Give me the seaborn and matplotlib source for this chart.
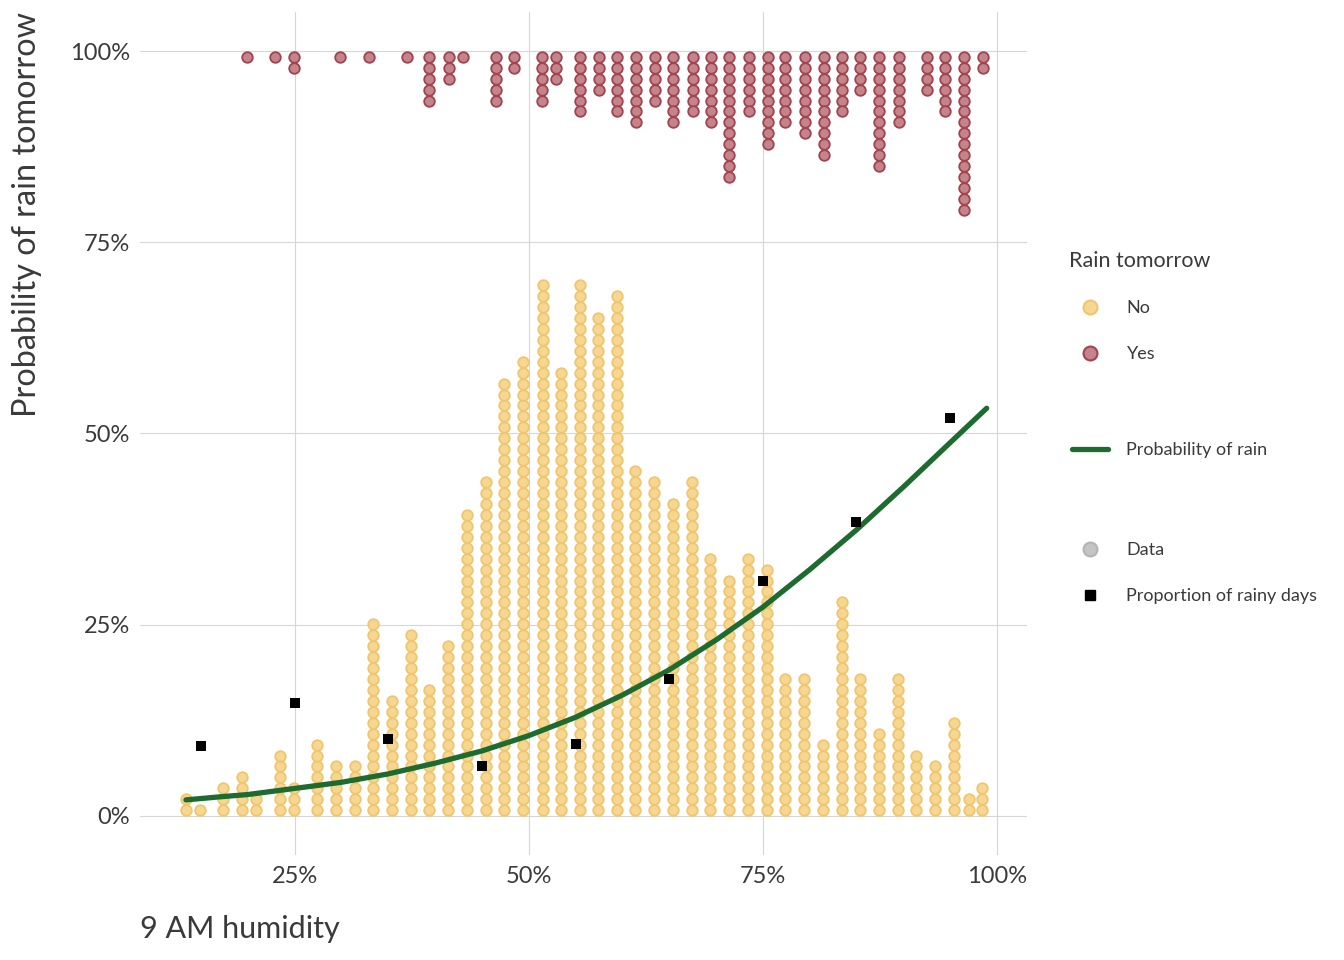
import numpy as np
import pandas as pd
import matplotlib
matplotlib.use('Agg')
import matplotlib.pyplot as plt
import seaborn as sns
from matplotlib.lines import Line2D
from matplotlib.ticker import PercentFormatter

# stacks of days with no rain tomorrow: humidity of each stack (%) and its size
no_humidity = [13.4, 14.9, 17.4, 19.4, 20.9, 23.4, 24.9, 27.4, 29.4, 31.4,
               33.4, 35.4, 37.4, 39.4, 41.4, 43.4, 45.4, 47.4, 49.4, 51.5,
               53.5, 55.5, 57.4, 59.4, 61.4, 63.4, 65.4, 67.4, 69.4, 71.4,
               73.4, 75.4, 77.4, 79.4, 81.4, 83.4, 85.4, 87.4, 89.4, 91.4,
               93.4, 95.4, 97.0, 98.4]
no_count = [2, 1, 3, 4, 2, 6, 3, 7, 5, 5,
            18, 11, 17, 12, 16, 28, 31, 40, 42, 49,
            41, 49, 46, 48, 32, 31, 29, 31, 24, 22,
            24, 23, 13, 13, 7, 20, 13, 8, 13, 6,
            5, 9, 2, 3]

# stacks of days with rain tomorrow (hanging from the top)
yes_humidity = [19.9, 22.9, 24.9, 29.9, 32.9, 37.0, 39.4, 41.5, 43.0, 46.5,
                48.4, 51.4, 52.9, 55.5, 57.5, 59.4, 61.5, 63.5, 65.4, 67.5,
                69.5, 71.4, 73.5, 75.5, 77.4, 79.5, 81.5, 83.5, 85.4, 87.4,
                89.5, 92.5, 94.4, 96.5, 98.5]
yes_count = [1, 1, 2, 1, 1, 1, 5, 3, 1, 5,
             2, 5, 3, 6, 4, 6, 7, 5, 7, 6,
             7, 12, 6, 9, 7, 8, 10, 6, 4, 11,
             7, 4, 6, 15, 2]

# fitted probability of rain
curve_humidity = [13.4, 17, 20, 25, 30, 35, 40, 45, 50, 55, 60, 65, 70, 75, 80, 85, 90, 95, 98.9]
curve_prob = [2.1, 2.5, 2.8, 3.6, 4.4, 5.5, 6.9, 8.5, 10.5, 12.9, 15.8, 19.1, 23.0, 27.3,
              32.2, 37.4, 43.0, 48.8, 53.3]

# share of rainy days in 10% humidity bins
bin_mid = [15, 25, 35, 45, 55, 65, 75, 85, 95]
rain_share = [9.1, 14.8, 10.1, 6.5, 9.4, 17.9, 30.7, 38.4, 52.0]

# dotplot stacking
dot_step = 1.43
dot_offset = 0.75
rows = []
for h, n in zip(no_humidity, no_count):
    for k in range(n):
        rows.append((h, dot_offset + k * dot_step, 'No'))
for h, n in zip(yes_humidity, yes_count):
    for k in range(n):
        rows.append((h, 100 - dot_offset - k * dot_step, 'Yes'))
dots = pd.DataFrame(rows, columns=['humidity', 'prob', 'rain'])

no_face, no_edge = '#f6d792', '#f1c56e'
yes_face, yes_edge = '#c3848b', '#a3434e'
green = '#1e6b30'
txt = '#3a3a3a'

sns.set_theme(style='whitegrid')
plt.rcParams['font.family'] = ['Lato', 'DejaVu Sans']

fig = plt.figure(figsize=(13.44, 9.6), dpi=100)
ax = fig.add_axes([0.1042, 0.1094, 0.6599, 0.8781])

sns.scatterplot(data=dots[dots['rain'] == 'No'], x='humidity', y='prob', ax=ax,
                color=no_face, edgecolor=no_edge, linewidth=1.3, s=58, legend=False, zorder=2)
sns.scatterplot(data=dots[dots['rain'] == 'Yes'], x='humidity', y='prob', ax=ax,
                color=yes_face, edgecolor=yes_edge, linewidth=1.3, s=58, legend=False, zorder=2)
sns.lineplot(x=curve_humidity, y=curve_prob, ax=ax, color=green, lw=3.8, zorder=3)
sns.scatterplot(x=bin_mid, y=rain_share, ax=ax, marker='s', color='black', s=62,
                linewidth=0, zorder=4)

ax.set_xlim(8.5, 103.2)
ax.set_ylim(-5.1, 105.1)
ax.set_xticks([25, 50, 75, 100])
ax.set_yticks([0, 25, 50, 75, 100])
ax.xaxis.set_major_formatter(PercentFormatter(xmax=100, decimals=0))
ax.yaxis.set_major_formatter(PercentFormatter(xmax=100, decimals=0))
ax.tick_params(length=0, pad=7, labelsize=17, labelcolor=txt)
ax.tick_params(axis='x', pad=8)
ax.grid(True, color='#d6d6d6', lw=0.8)
ax.set_facecolor('white')
for s in ax.spines.values():
    s.set_visible(False)

ax.set_xlabel('9 AM humidity', loc='left', fontsize=22, color=txt, labelpad=20)
ax.set_ylabel('Probability of rain tomorrow', loc='top', fontsize=23.3, color=txt, labelpad=20)

# legends
h1 = [Line2D([], [], ls='', marker='o', ms=10, mfc=no_face, mec=no_edge, mew=1.5),
      Line2D([], [], ls='', marker='o', ms=10, mfc=yes_face, mec=yes_edge, mew=1.5)]
leg1 = fig.legend(h1, ['No', 'Yes'], title='Rain tomorrow', loc='upper left',
                  bbox_to_anchor=(1069 / 1344, 1 - 251 / 960), frameon=False,
                  fontsize=13, title_fontsize=15.5, alignment='left', borderpad=0,
                  borderaxespad=0, handlelength=2.3, handletextpad=0.9,
                  labelspacing=1.65, labelcolor=txt)
leg1.get_title().set_color(txt)
leg1._legend_box.sep = 21

h2 = [Line2D([], [], color=green, lw=3.8)]
fig.legend(h2, ['Probability of rain'], loc='center left',
           bbox_to_anchor=(1072 / 1344, 1 - 450 / 960), frameon=False,
           fontsize=13, borderpad=0, borderaxespad=0, handlelength=2.0,
           handletextpad=1.0, labelcolor=txt)

h3 = [Line2D([], [], ls='', marker='o', ms=10, mfc='#c4c4c4', mec='#b4b4b4', mew=1.5),
      Line2D([], [], ls='', marker='s', ms=7.5, mfc='black', mec='black')]
fig.legend(h3, ['Data', 'Proportion of rainy days'], loc='center left',
           bbox_to_anchor=(1072 / 1344, 1 - 573 / 960), frameon=False,
           fontsize=13, borderpad=0, borderaxespad=0, handlelength=2.0,
           handletextpad=1.0, labelspacing=1.65, labelcolor=txt)

fig.savefig('out.png', dpi=100, facecolor='white')
